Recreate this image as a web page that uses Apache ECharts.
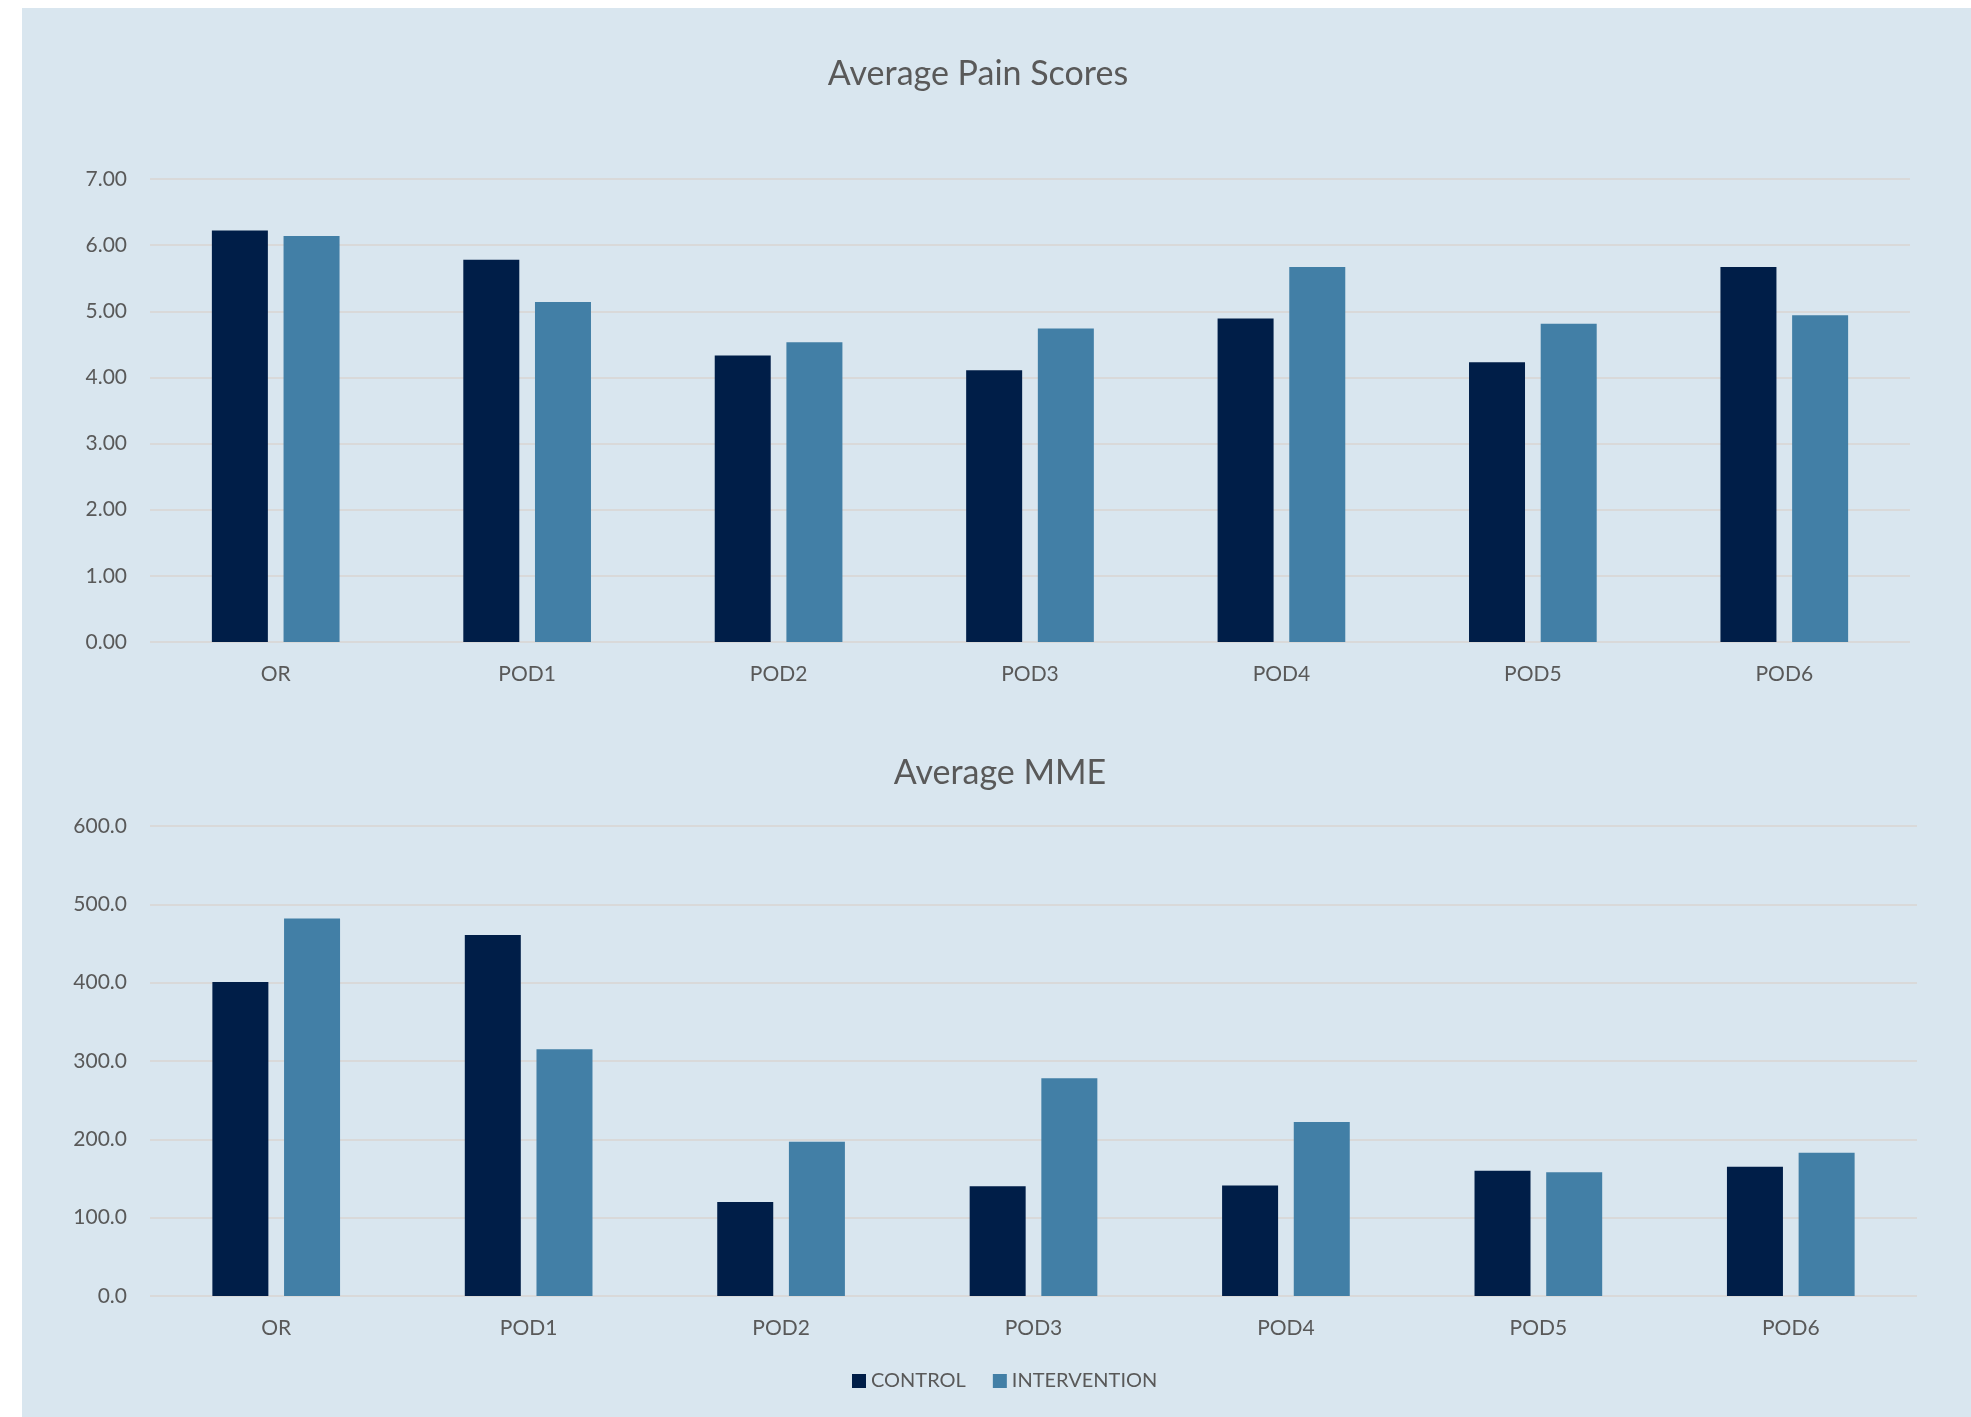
<!DOCTYPE html>
<html>
<head>
<meta charset="utf-8">
<title>Average Pain Scores and Average MME</title>
<script src="https://cdn.jsdelivr.net/npm/echarts@6/dist/echarts.min.js"></script>
<style>
  html, body { margin: 0; padding: 0; background: #ffffff; }
  #panel { position: absolute; left: 22px; top: 8px; right: 0; bottom: 0; background: #d9e6ef; }
  #chart { position: absolute; left: 0; top: 0; width: 1971px; height: 1417px; }
</style>
</head>
<body>
<div id="panel"></div>
<div id="chart"></div>
<script>
// Days of stay
const categories = ['OR', 'POD1', 'POD2', 'POD3', 'POD4', 'POD5', 'POD6'];
const seriesNames = ['CONTROL', 'INTERVENTION'];

// Average pain scores per day
const painControl = [6.22, 5.78, 4.33, 4.11, 4.89, 4.23, 5.67];
const painIntervention = [6.14, 5.14, 4.53, 4.74, 5.67, 4.81, 4.94];

// Average morphine milligram equivalents per day
const mmeControl = [401, 461, 120, 140, 141, 160, 165];
const mmeIntervention = [482, 315, 197, 278, 222, 158, 183];

// Value axes
const painAxis = { min: 0, max: 7, interval: 1, decimals: 2 };
const mmeAxis = { min: 0, max: 600, interval: 100, decimals: 1 };

const FONT = 'Lato';
const TEXT = '#595959';
const GRID_LINE = '#d9d9d9';
const COLORS = ['#001e48', '#427fa6'];

function valueAxis(gridIndex, ax) {
  return {
    type: 'value', gridIndex: gridIndex,
    min: ax.min, max: ax.max, interval: ax.interval,
    axisLine: { show: false }, axisTick: { show: false },
    splitLine: { lineStyle: { color: GRID_LINE, width: 2 } },
    axisLabel: {
      color: TEXT, fontFamily: FONT, fontSize: 21, margin: 23,
      formatter: v => v.toFixed(ax.decimals)
    }
  };
}

function categoryAxis(gridIndex) {
  return {
    type: 'category', gridIndex: gridIndex, data: categories,
    axisLine: { show: false }, axisTick: { show: false },
    axisLabel: { color: TEXT, fontFamily: FONT, fontSize: 21, margin: 22 }
  };
}

function bars(name, data, idx, colorIdx) {
  return {
    name: name, type: 'bar', xAxisIndex: idx, yAxisIndex: idx,
    data: data, barWidth: 56, barGap: '28%',
    itemStyle: { color: COLORS[colorIdx] }
  };
}

const chart = echarts.init(document.getElementById('chart'), null, { renderer: 'canvas' });
chart.setOption({
  backgroundColor: 'transparent',
  animation: false,
  graphic: [
    { type: 'text', x: 978, y: 74, style: { text: 'Average Pain Scores', fill: TEXT, font: '34px ' + FONT, textAlign: 'center', textVerticalAlign: 'middle' } },
    { type: 'text', x: 1000, y: 773, style: { text: 'Average MME', fill: TEXT, font: '34px ' + FONT, textAlign: 'center', textVerticalAlign: 'middle' } }
  ],
  legend: {
    data: seriesNames, left: 847, top: 1366,
    icon: 'rect', itemWidth: 14, itemHeight: 14, itemGap: 27,
    textStyle: { color: TEXT, fontFamily: FONT, fontSize: 20 }
  },
  grid: [
    { left: 150, right: 61, top: 179, height: 463 },
    { left: 150, right: 54, top: 826, height: 470 }
  ],
  xAxis: [categoryAxis(0), categoryAxis(1)],
  yAxis: [valueAxis(0, painAxis), valueAxis(1, mmeAxis)],
  series: [
    bars(seriesNames[0], painControl, 0, 0),
    bars(seriesNames[1], painIntervention, 0, 1),
    bars(seriesNames[0], mmeControl, 1, 0),
    bars(seriesNames[1], mmeIntervention, 1, 1)
  ]
});
</script>
</body>
</html>
